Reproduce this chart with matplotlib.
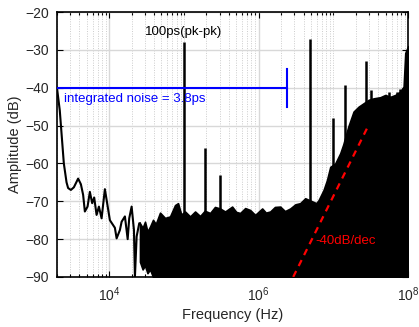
import matplotlib
matplotlib.use("Agg")
import matplotlib.pyplot as plt
from matplotlib.ticker import LogLocator, NullFormatter

plt.rcParams["font.family"] = ["Liberation Sans", "DejaVu Sans"]

# low-frequency part of the spectrum (single trace)
low_freq = [2000, 2180, 2470, 2685, 2818, 3069, 3365, 3837, 4178, 4477, 4721,
            5129, 5508, 5916, 6295, 6776, 7278, 7907, 8750, 10210, 11910, 12560,
            13900, 14660, 16220, 17660, 18530, 19950, 21430, 22080, 23280, 25240]
low_db = [-40, -46, -60, -65, -66.5, -67, -66.3, -64, -65.5, -68.3, -72.7,
          -71.4, -67.5, -70.5, -69, -73.6, -71.4, -74.5, -66.8, -75, -77, -79.8,
          -77.6, -75.4, -74, -80, -74.5, -71.4, -77.6, -90, -79.3, -75.8]

# dense noise floor: upper and lower envelope
band_freq = [25800, 28000, 30130, 32500, 35160, 38550, 42000, 47860, 55850, 65160,
             76030, 83370, 92000, 103500, 120800, 140900, 164400, 190000, 223900,
             260000, 304800, 355600, 441600, 500000, 564900, 660000, 769100, 897500,
             1114000, 1250000, 1426000, 1650000, 1941000, 2250000, 2642000,
             3100000, 3597000, 4198000, 5902000, 6339000, 7396000, 8204000, 9085000,
             10590000, 12360000, 13560000, 15820000, 18620000, 21730000,
             25350000, 29580000, 34580000, 42460000, 49550000, 57810000,
             67450000, 78700000, 87130000, 91660000, 100000000]
band_top = [-75.8, -77, -75.4, -78, -76.7, -74.9, -76, -73, -74.4, -74,
            -71, -70.5, -73.5, -72.7, -74, -72.7, -73.9, -72.5, -73.1,
            -71.5, -71.9, -72.7, -71.4, -72.8, -73.1, -71.8, -72.3, -73.6,
            -71.9, -73, -72.7, -71.5, -71.4, -72.6, -71.9,
            -70.8, -70.5, -69.2, -70.5, -69.7, -67, -64.4, -60.9,
            -60, -57.3, -55, -50.3, -46.3, -45,
            -44.1, -43.2, -42.8, -42.5, -41.9, -42.4,
            -41.9, -41, -39.7, -30.8, -29]
band_bottom = [-86, -88, -87, -89, -88, -90, -90, -90, -90, -90,
               -90, -90, -90, -90, -90, -90, -90, -90, -90,
               -90, -90, -90, -90, -90, -90, -90, -90, -90,
               -90, -90, -90, -90, -90, -90, -90,
               -90, -90, -90, -90, -90, -90, -90, -90,
               -90, -90, -90, -90, -90, -90,
               -90, -90, -90, -90, -90, -90,
               -90, -90, -90, -90, -90]

# spurs
spur_freq = [1e5, 1.9e5, 3e5, 4.9e6, 1e7, 1.45e7, 2.7e7, 3.2e7, 5.5e7, 7.1e7, 7.9e7]
spur_db = [-28, -56, -63, -27, -48, -39.3, -33, -40.5, -41, -41, -40.2]

# -40dB/dec guide
slope_freq = [2.9e6, 2.94e7]
slope_db = [-90, -50]

# integrated noise bar
bar_freq = [2000, 2.43e6]
bar_db = -40

fig = plt.figure(figsize=(4.19, 3.27), dpi=100)
ax = fig.add_axes([0.136, 0.153, 0.838, 0.81])

ax.fill_between(band_freq, band_bottom, band_top, color="black", lw=1.2, zorder=3)
ax.plot(low_freq + band_freq[:1], low_db + band_top[:1], color="black", lw=1.5, zorder=3)
ax.vlines(spur_freq, -90, spur_db, color="black", lw=1.8, zorder=3)

ax.plot(slope_freq, slope_db, color="red", lw=1.6, ls=(0, (3, 2.5)), zorder=4)
ax.text(5.7e6, -80.5, "-40dB/dec", color="red", fontsize=9.5, va="center", zorder=5)

ax.plot(bar_freq, [bar_db, bar_db], color="blue", lw=1.5, zorder=4)
ax.plot([bar_freq[1], bar_freq[1]], [bar_db + 5, bar_db - 5], color="blue", lw=1.5, zorder=4)
ax.text(2470, -43, "integrated noise = 3.8ps", color="blue", fontsize=9.5, va="center", zorder=5)
ax.text(3.0e4, -25.3, "100ps(pk-pk)", color="black", fontsize=9.5, va="center", zorder=5)

ax.set_xscale("log")
ax.set_xlim(2000, 1e8)
ax.set_ylim(-90, -20)
ax.set_xticks([1e4, 1e6, 1e8])
ax.xaxis.set_minor_locator(LogLocator(base=10, subs=range(1, 10), numticks=50))
ax.xaxis.set_minor_formatter(NullFormatter())
ax.set_yticks(range(-90, -19, 10))

ax.grid(True, which="major", color="#d8d8d8", lw=1, ls="-", zorder=0)
ax.grid(True, which="minor", axis="x", color="#cccccc", lw=0.7, ls=(0, (1, 1.5)), zorder=0)
ax.set_axisbelow(True)

ax.tick_params(which="both", direction="in", top=True, right=True, labelsize=10,
               labelcolor="#262626", pad=6)
ax.tick_params(which="major", length=4, width=0.8)
ax.tick_params(which="minor", length=2, width=0.8)
for s in ax.spines.values():
    s.set_linewidth(1.2)

ax.set_xlabel("Frequency (Hz)", fontsize=10.5, color="#262626", labelpad=3)
ax.set_ylabel("Amplitude (dB)", fontsize=10.5, color="#262626", labelpad=2)

fig.savefig("out.png", dpi=100)
